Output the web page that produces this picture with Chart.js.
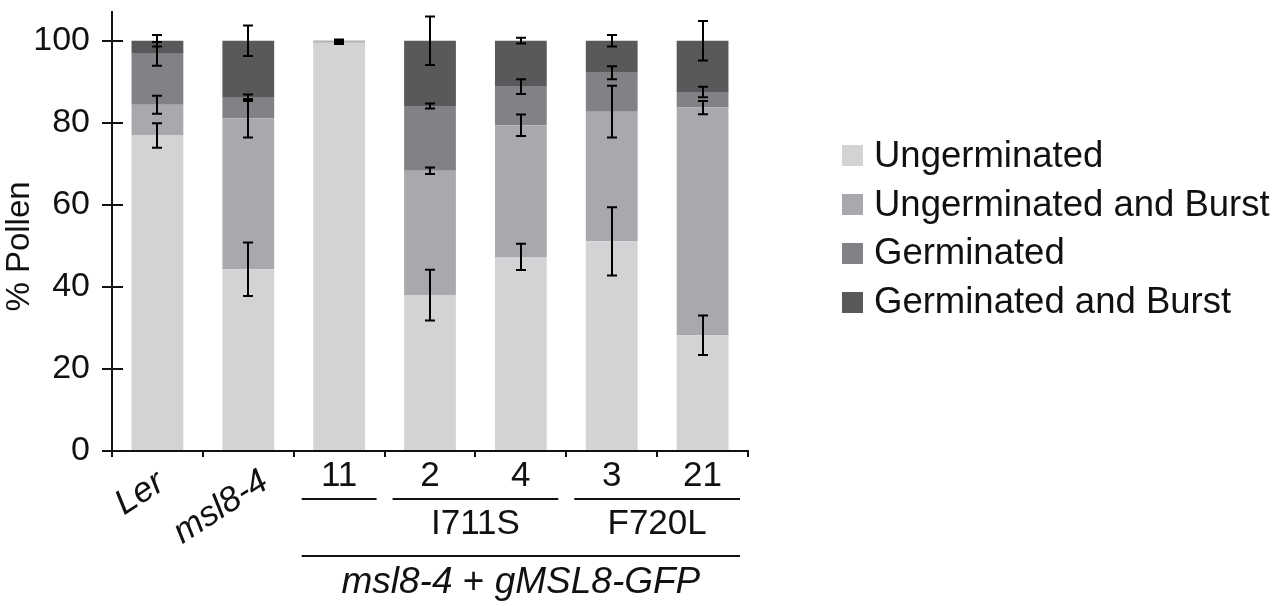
<!DOCTYPE html>
<html>
<head>
<meta charset="utf-8">
<title>Pollen germination</title>
<script src="https://cdn.jsdelivr.net/npm/chart.js@4.4.1/dist/chart.umd.min.js"></script>
<style>
  html, body { margin: 0; padding: 0; background: #fff; }
  #wrap { width: 1277px; height: 606px; position: relative; }
</style>
</head>
<body>
<div id="wrap"><canvas id="chart"></canvas></div>
<script>
// lines / genotypes along the x axis
const categories = ['Ler', 'msl8-4', '11', '2', '4', '3', '21'];

// % pollen in each class (stacked bottom to top)
const ungerminated      = [76.9, 44.3, 99.5, 38.0, 47.3, 51.1, 28.2];
const ungerminatedBurst = [7.5, 36.8, 0.3, 30.3, 32.1, 31.6, 55.5];
const germinated        = [12.4, 5.0, 0.1, 15.8, 9.4, 9.5, 3.8];
const germinatedBurst   = [3.2, 13.9, 0.1, 15.9, 11.2, 7.8, 12.5];

// standard deviation for each class
const ungerminatedErr      = [3.0, 6.5, 0.3, 6.2, 3.2, 8.3, 4.8];
const ungerminatedBurstErr = [2.2, 4.7, 0.3, 0.8, 2.6, 6.3, 1.6];
const germinatedErr        = [2.9, 0.8, 0.3, 0.6, 1.8, 1.6, 1.3];
const germinatedBurstErr   = [1.4, 3.7, 0.3, 5.9, 0.7, 1.4, 4.8];

const yTicks = [0, 20, 40, 60, 80, 100];

// bracket rows under the axis
const subGroups = [
  { label: '', from: 2, to: 2 },
  { label: 'I711S', from: 3, to: 4 },
  { label: 'F720L', from: 5, to: 6 }
];
const transgene = { from: 2, to: 6, parts: [['msl8-4', true], [' + ', false], ['gMSL8-GFP', true]] };

const FONT = '"Liberation Sans", Arial, Helvetica, sans-serif';
const INK = '#111111';

function font(size, italic) { return (italic ? 'italic ' : '') + size + 'px ' + FONT; }

const annotate = {
  id: 'annotate',
  afterDatasetsDraw(chart) {
    // error bars sit on top of each stacked segment
    const ctx = chart.ctx, y = chart.scales.y;
    ctx.save();
    ctx.strokeStyle = '#000';
    ctx.lineWidth = 2;
    chart.data.datasets.forEach((ds, di) => {
      chart.getDatasetMeta(di).data.forEach((bar, j) => {
        let top = 0;
        for (let k = 0; k <= di; k++) top += chart.data.datasets[k].data[j];
        const e = ds.err[j];
        const y1 = y.getPixelForValue(top + e), y2 = y.getPixelForValue(top - e);
        const x = Math.round(bar.x), c = 5;
        ctx.beginPath();
        ctx.moveTo(x, y1); ctx.lineTo(x, y2);
        ctx.moveTo(x - c, y1); ctx.lineTo(x + c, y1);
        ctx.moveTo(x - c, y2); ctx.lineTo(x + c, y2);
        ctx.stroke();
      });
    });
    ctx.restore();
  },
  afterDraw(chart) {
    const ctx = chart.ctx, xs = chart.scales.x, ys = chart.scales.y;
    const area = chart.chartArea;
    const bottom = area.bottom;
    const step = xs.getPixelForValue(1) - xs.getPixelForValue(0);
    ctx.save();
    ctx.fillStyle = INK;
    ctx.strokeStyle = INK;
    ctx.lineWidth = 2;

    // y ticks cross the axis line
    yTicks.forEach(v => {
      const py = Math.round(ys.getPixelForValue(v));
      ctx.beginPath();
      ctx.moveTo(ys.right, py); ctx.lineTo(ys.right + 11, py);
      ctx.stroke();
    });

    // axis title
    ctx.save();
    ctx.translate(20, (area.top + bottom) / 2 + 15);
    ctx.rotate(-Math.PI / 2);
    ctx.font = font(33);
    ctx.textAlign = 'center';
    ctx.textBaseline = 'middle';
    ctx.fillText('% Pollen', 0, 0);
    ctx.restore();

    // slanted genotype names
    const slant = [[9, 37], [22, 36]];
    for (let i = 0; i < 2; i++) {
      ctx.save();
      ctx.translate(xs.getPixelForValue(i) + slant[i][0], bottom + slant[i][1]);
      ctx.rotate(-33 * Math.PI / 180);
      ctx.font = font(35, true);
      ctx.textAlign = 'right';
      ctx.textBaseline = 'alphabetic';
      ctx.fillText(categories[i], 0, 0);
      ctx.restore();
    }

    // line numbers
    ctx.font = font(35);
    ctx.textAlign = 'center';
    ctx.textBaseline = 'middle';
    for (let i = 2; i < categories.length; i++) {
      ctx.fillText(categories[i], xs.getPixelForValue(i), bottom + 25);
    }

    const span = (from, to) => [xs.getPixelForValue(from) - step / 2 + 8, xs.getPixelForValue(to) + step / 2 - 8];

    subGroups.forEach(g => {
      const [a, b] = span(g.from, g.to);
      ctx.beginPath();
      ctx.moveTo(a, bottom + 48); ctx.lineTo(b, bottom + 48);
      ctx.stroke();
      if (g.label) ctx.fillText(g.label, (a + b) / 2, bottom + 73);
    });

    const [a, b] = span(transgene.from, transgene.to);
    ctx.beginPath();
    ctx.moveTo(a, bottom + 105); ctx.lineTo(b, bottom + 105);
    ctx.stroke();

    // mixed italic / upright construct name
    const widths = transgene.parts.map(([t, it]) => { ctx.font = font(37, it); return ctx.measureText(t).width; });
    let px = (a + b) / 2 - widths.reduce((s, w) => s + w, 0) / 2;
    ctx.textAlign = 'left';
    ctx.textBaseline = 'alphabetic';
    transgene.parts.forEach(([t, it], k) => {
      ctx.font = font(37, it);
      ctx.fillText(t, px, bottom + 142);
      px += widths[k];
    });

    // legend to the right of the plot, one row per dataset
    const rowGap = 48.7, box = 21;
    const mid = (area.top + bottom) / 2 - 2.5;
    const n = chart.data.datasets.length;
    const lx = area.right + 94;
    ctx.font = font(36.5);
    ctx.textAlign = 'left';
    ctx.textBaseline = 'middle';
    chart.data.datasets.forEach((ds, i) => {
      const cy = mid + (i - (n - 1) / 2) * rowGap;
      ctx.fillStyle = ds.backgroundColor;
      ctx.fillRect(lx, Math.round(cy - box / 2), box, box);
      ctx.fillStyle = INK;
      ctx.fillText(ds.label, lx + box + 11, cy + 1);
    });
    ctx.restore();
  }
};

new Chart(document.getElementById('chart'), {
  type: 'bar',
  data: {
    labels: categories,
    datasets: [
      { label: 'Ungerminated', data: ungerminated, err: ungerminatedErr, backgroundColor: '#d1d3d4' },
      { label: 'Ungerminated and Burst', data: ungerminatedBurst, err: ungerminatedBurstErr, backgroundColor: '#a7a9ac' },
      { label: 'Germinated', data: germinated, err: germinatedErr, backgroundColor: '#808285' },
      { label: 'Germinated and Burst', data: germinatedBurst, err: germinatedBurstErr, backgroundColor: '#58595b' }
    ]
  },
  options: {
    responsive: true,
    maintainAspectRatio: false,
    animation: false,
    layout: { padding: { top: 0, right: 529, bottom: 0, left: 0 } },
    datasets: { bar: { categoryPercentage: 1, barPercentage: 0.57 } },
    scales: {
      x: {
        stacked: true,
        ticks: { display: false },
        grid: { drawOnChartArea: false, tickLength: 6, color: INK, lineWidth: 2 },
        border: { color: INK, width: 2 },
        afterFit(s) { s.height = 155; }
      },
      y: {
        stacked: true,
        min: 0,
        max: 107,
        ticks: { stepSize: 20, includeBounds: false, padding: 12, color: INK, font: { family: FONT, size: 34 } },
        grid: { drawOnChartArea: false, tickLength: 10, color: INK, lineWidth: 2 },
        border: { color: INK, width: 2 },
        afterFit(s) { s.width = 112; s.paddingTop = 12; s.paddingBottom = 0; }
      }
    },
    plugins: {
      legend: { display: false },
      tooltip: { enabled: false }
    }
  },
  plugins: [annotate]
});
</script>
</body>
</html>
